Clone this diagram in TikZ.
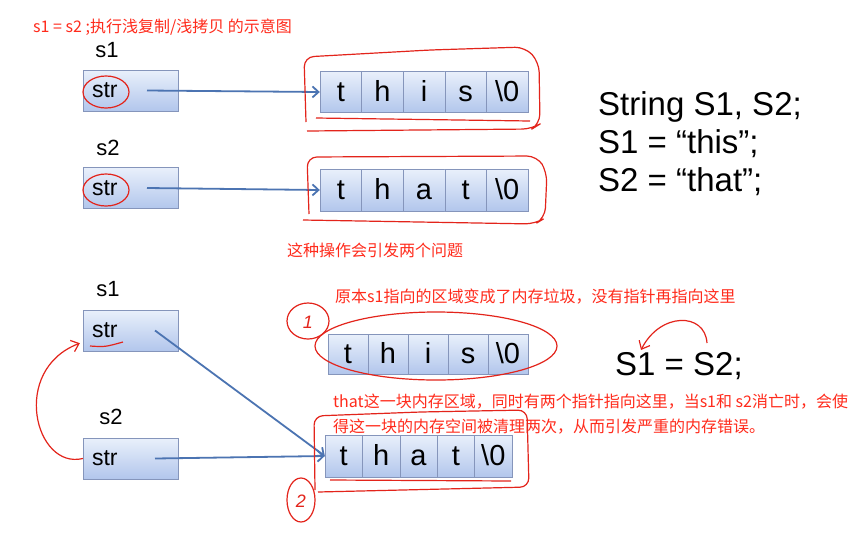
\documentclass[tikz,border=0pt]{standalone}
\usepackage{fontspec}
\setmainfont{Liberation Sans}
\newfontfamily\cjk{Noto Sans CJK SC}
\usetikzlibrary{arrows.meta,calc,positioning}
\definecolor{pen}{HTML}{E3241B}
\definecolor{note}{HTML}{FF2B1C}
\definecolor{ptr}{HTML}{4C74B2}
\definecolor{celltop}{HTML}{E9F0FB}
\definecolor{cellbot}{HTML}{B2C6EC}
\definecolor{celledge}{HTML}{8595BB}

\begin{document}
\begin{tikzpicture}[x=1pt,y=-1pt,
 cell/.style={draw=celledge,top color=celltop,bottom color=cellbot,inner sep=0pt,text height=21pt,text depth=3pt,font=\fontsize{29}{29}\selectfont},
 var/.style={draw=celledge,top color=celltop,bottom color=cellbot,minimum width=95pt,minimum height=41pt,text width=77pt,inner xsep=9pt,align=left,font=\fontsize{23}{23}\selectfont},
 varname/.style={font=\fontsize{22}{22}\selectfont,inner sep=0pt},
 code/.style={anchor=base west,inner sep=0pt,font=\fontsize{33}{33}\selectfont},
 note/.style={text=note,inner sep=0pt,font=\cjk\fontsize{16}{25}\selectfont},
 ptrline/.style={ptr,line width=1.8pt,-{Straight Barb[length=6pt,width=11pt]}},
 penline/.style={pen,line width=1.2pt}]
 \fill[white](0,0)rectangle(863,542);
 \useasboundingbox(0,0)rectangle(863,542);
 % strings in memory
 \foreach \row/\x/\y/\w/\h/\word in {thisA/320/92/41.6/41/{t,h,i,s,\textbackslash0},thatA/320/190/41.6/42/{t,h,a,t,\textbackslash0},thisB/328/354/40/40/{t,h,i,s,\textbackslash0},thatB/325/456/37.4/42/{t,h,a,t,\textbackslash0}}{
  \foreach \ch [count=\i from 0] in \word{
   \node[cell,minimum width=\w pt,minimum height=\h pt](\row\i)at({\x+\w*(\i+0.5)},\y){\ch};}}
 % pointer variables
 \node[var](s1a)at(130.5,90.5){str};
 \node[var](s2a)at(130.5,188){str};
 \node[var](s1b)at(130.5,330.5){str};
 \node[var](s2b)at(130.5,458.5){str};
 \node[varname](s1alab)at(107,50){s1};
 \node[varname](s2alab)at(108,148){s2};
 \node[varname](s1blab)at(108,289){s1};
 \node[varname](s2blab)at(111,417){s2};
 \coordinate(s1aptr)at([xshift=16.5pt]s1a.center);
 \coordinate(s2aptr)at([xshift=16.5pt]s2a.center);
 \coordinate(s1bptr)at([xshift=24.5pt]s1b.center);
 \coordinate(s2bptr)at([xshift=24.5pt]s2b.center);
 \draw[ptrline](s1aptr)--(thisA0.west);
 \draw[ptrline](s2aptr)--(thatA0.west);
 \draw[ptrline](s1bptr)--(thatB0.west);
 \draw[ptrline](s2bptr)--(thatB0.west);
 % code
 \node[code](decl1)at(598,115){String S1, S2;};
 \node[code](decl2)at(598,153){S1 = “this”;};
 \node[code](decl3)at(598,191){S2 = “that”;};
 \node[code](assign)at(615,375){S1 = S2;};
 % red notes
 \node[note,anchor=west](title)at(33,27){s1 = s2 ;执行浅复制/浅拷贝 的示意图};
 \node[note,anchor=west](issue)at(287,250){这种操作会引发两个问题};
 \node[note,anchor=west](garbage)at(335,297){原本s1指向的区域变成了内存垃圾，没有指针再指向这里};
 \node[note,anchor=north west,align=left](twice)at(333,394){that这一块内存区域，同时有两个指针指向这里，当s1和 s2消亡时，会使\\得这一块的内存空间被清理两次，从而引发严重的内存错误。};
 % hand drawn marks
 \draw[penline](106,92)ellipse[x radius=23,y radius=16];
 \draw[penline](106,190)ellipse[x radius=23,y radius=16];
 \draw[penline](90,346)..controls(105,347)..(123,342);
 \draw[penline,rounded corners=10pt](306,122)--(304,57)--(430,50)--(525,47)--(539,62)--(540,124)--(532,129)--(307,131);
 \draw[penline](316,118)--(530,121);
 \draw[penline,rounded corners=10pt](309,214)--(307,157)--(537,156)--(547,172)--(545,218)--(535,224)--(303,220);
 \draw[penline](436,346)ellipse[x radius=121,y radius=34];
 \draw[penline](308,321)ellipse[x radius=21,y radius=18];
 \node[text=pen,font=\fontsize{18}{18}\selectfont\itshape](one)at(308,322){1};
 \draw[penline,rounded corners=9pt](315,490)--(314,416)--(420,412)--(527,410)--(529,487)--(318,492);
 \draw[penline](330,480)--(511,481);
 \draw[penline](301,500)ellipse[x radius=14,y radius=22];
 \node[text=pen,font=\fontsize{18}{18}\selectfont\itshape](two)at(301,501){2};
 \coordinate(s1bend)at([shift={(-3,-8)}]s1b.south west);
 \draw[penline,-{Straight Barb[length=7pt,width=12pt]}](s2b.west)..controls(35,470)and(10,370)..(s1bend);
 \draw[penline,-{Straight Barb[length=7pt,width=12pt]}](707,343)..controls(705,312)and(660,312)..(641,350);
\end{tikzpicture}
\end{document}
